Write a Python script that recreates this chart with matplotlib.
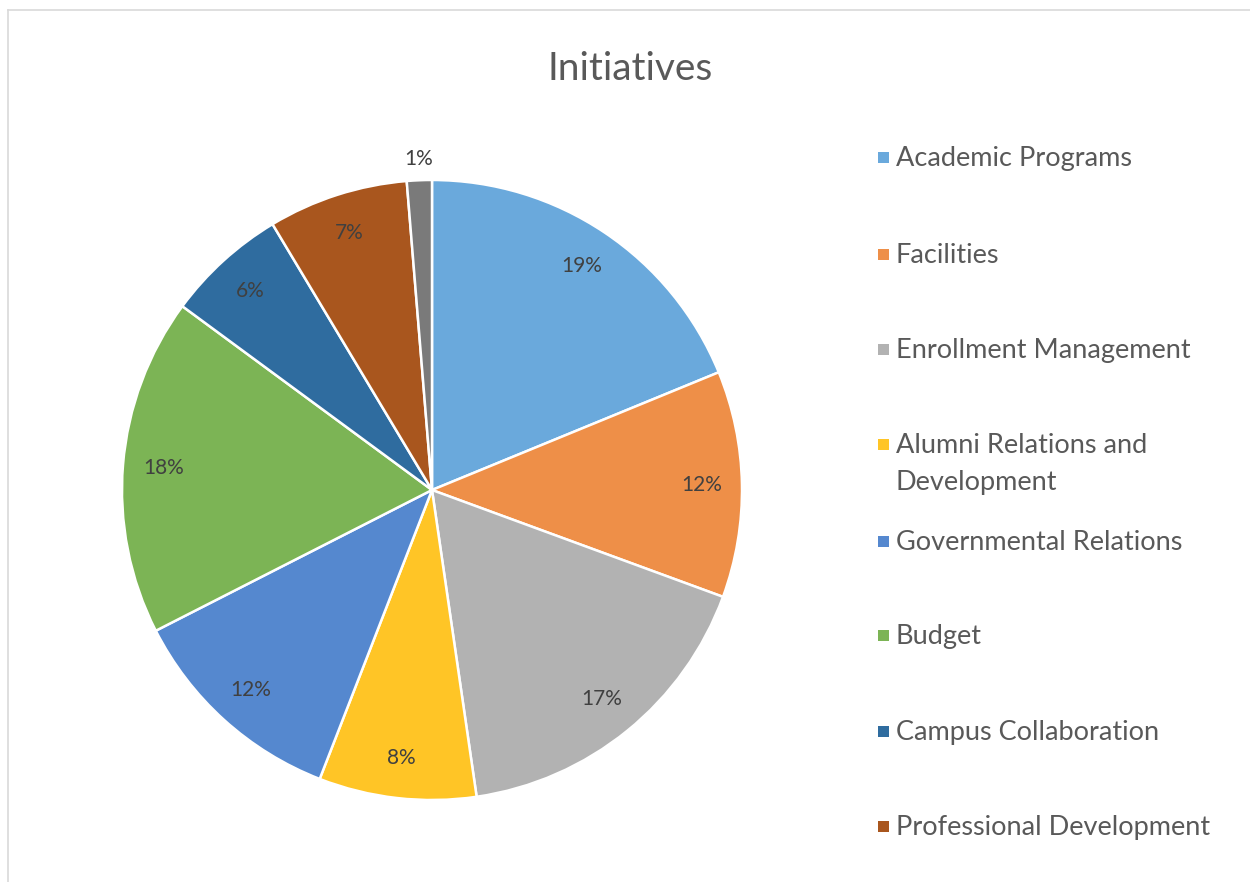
import matplotlib
matplotlib.use("Agg")
import matplotlib.pyplot as plt
from matplotlib.lines import Line2D
import matplotlib.patches as patches

plt.rcParams['font.family'] = ['Lato', 'DejaVu Sans']

categories = ['Academic Programs', 'Facilities', 'Enrollment Management',
              'Alumni Relations and\nDevelopment', 'Governmental Relations',
              'Budget', 'Campus Collaboration', 'Professional Development', '']
shares = [18.8, 11.8, 17.1, 8.2, 11.6, 17.6, 6.3, 7.3, 1.3]
colors = ['#6aa9dc', '#ee8f48', '#b2b2b2', '#ffc526', '#5588cf',
          '#7cb455', '#2f6c9f', '#a9561e', '#7a7a7a']

W, H = 1250, 882
fig = plt.figure(figsize=(W / 100, H / 100), dpi=100)
fig.patch.set_facecolor('white')

# thin chart-area frame (top and left edges visible in the reference)
fig.add_artist(Line2D([8 / W, 1.0], [1 - 10 / H, 1 - 10 / H], color='#d9d9d9', lw=1.2))
fig.add_artist(Line2D([8 / W, 8 / W], [0.0, 1 - 10 / H], color='#d9d9d9', lw=1.2))

# pie centred at (432, 490) px, radius 310 px
cx, cy, r = 432, 490, 310
ax = fig.add_axes([(cx - r) / W, 1 - (cy + r) / H, 2 * r / W, 2 * r / H])
wedges, texts, autotexts = ax.pie(
    shares, colors=colors, startangle=90, counterclock=False,
    autopct=lambda p: f'{p:.0f}%', pctdistance=0.87,
    wedgeprops=dict(edgecolor='white', linewidth=1.8),
    textprops=dict(color='#404040', fontsize=15))
ax.set_xlim(-1, 1)
ax.set_ylim(-1, 1)
ax.set_aspect('auto')

# tiny last slice: label sits outside the pie
last = autotexts[-1]
x, y = last.get_position()
last.set_position((x * 1.07 / 0.87, y * 1.07 / 0.87))
last.set_clip_on(False)

fig.text(630 / W, 1 - 69 / H, 'Initiatives', ha='center', va='center',
         fontsize=28, color='#595959')

# legend drawn by hand to mimic the spread-out Excel layout
legend_y = [158, 255, 350, 445, 542, 636, 732, 827]
for name, col, ly in zip(categories[:8], colors[:8], legend_y):
    fig.add_artist(patches.Rectangle((878 / W, 1 - (ly + 5) / H), 11 / W, 11 / H,
                                     transform=fig.transFigure, facecolor=col,
                                     edgecolor='none'))
    fig.text(896 / W, 1 - (ly - 12) / H, name, ha='left', va='top',
             fontsize=19.5, color='#595959', linespacing=1.6)

fig.savefig('out.png', dpi=100, facecolor='white')
